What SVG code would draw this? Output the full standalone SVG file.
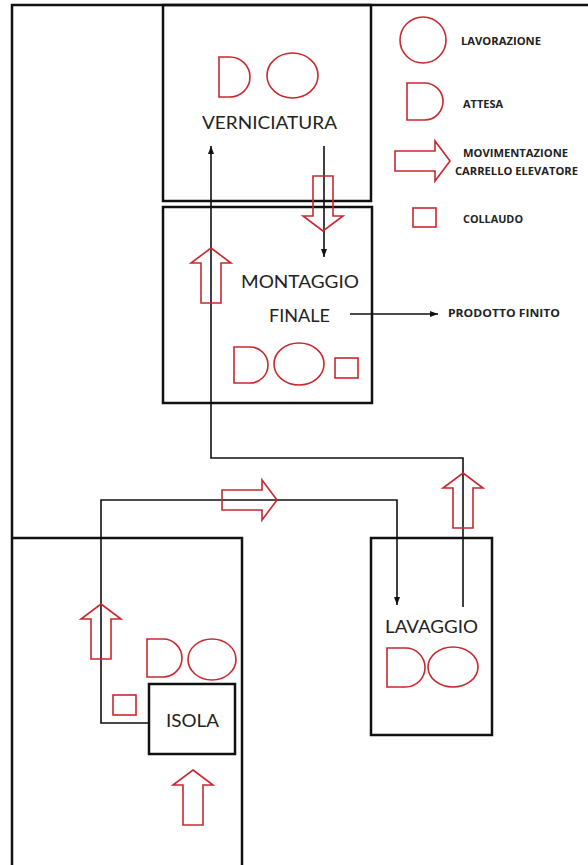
<svg xmlns="http://www.w3.org/2000/svg" xmlns:xlink="http://www.w3.org/1999/xlink" width="588" height="865" viewBox="0 0 588 865">
<style>
.wall{fill:none;stroke:#111;stroke-width:2.5}
.conn{fill:none;stroke:#111;stroke-width:1.6}
.sym{fill:none;stroke:#c8282e;stroke-width:1.6}
.lbl{font-family:Lato,"Open Sans","Liberation Sans",sans-serif;font-size:17px;fill:#222;text-anchor:start}
.leg{font-family:"Open Sans","Liberation Sans",sans-serif;font-weight:bold;font-size:10.5px;fill:#222}
</style>
<defs>
<path id="uparrow" d="M0 0 L20 15 L10 15 L10 55 L-10 55 L-10 15 L-20 15 Z"/>
<marker id="ah" markerUnits="userSpaceOnUse" markerWidth="8" markerHeight="8" viewBox="0 0 8 8" refX="8" refY="4" orient="auto">
<path d="M0 1 L8 4 L0 7 Z" fill="#111"/>
</marker>
</defs>
<rect width="588" height="865" fill="#fff"/>

<g id="frame">
<path class="wall" d="M12 865 V5 H588"/>
</g>

<g id="verniciatura">
<rect class="wall" x="163" y="5" width="208" height="196"/>
<path class="sym" d="M219 57 H230 A20 20 0 0 1 230 97 H219 Z"/>
<ellipse class="sym" cx="292.5" cy="75.5" rx="25.5" ry="22.5"/>
<text class="lbl" x="202" y="129" textLength="135" lengthAdjust="spacingAndGlyphs">VERNICIATURA</text>
</g>

<g id="montaggio">
<rect class="wall" x="163" y="207" width="209" height="196"/>
<text class="lbl" x="241" y="288" textLength="118" lengthAdjust="spacingAndGlyphs">MONTAGGIO</text>
<text class="lbl" x="269" y="322" textLength="61" lengthAdjust="spacingAndGlyphs">FINALE</text>
<path class="sym" d="M234 347 H250 A18 18 0 0 1 250 383 H234 Z"/>
<ellipse class="sym" cx="299" cy="364" rx="25" ry="21"/>
<rect class="sym" x="335" y="358" width="23" height="20"/>
</g>

<g id="lavaggio">
<rect class="wall" x="371" y="538" width="121" height="197"/>
<text class="lbl" x="385" y="633" textLength="93" lengthAdjust="spacingAndGlyphs">LAVAGGIO</text>
<path class="sym" d="M387 648 H405.5 A19.5 19.5 0 0 1 405.5 687 H387 Z"/>
<ellipse class="sym" cx="453" cy="667" rx="25" ry="20"/>
</g>

<g id="area-isola">
<path class="wall" d="M12 538 H242 V865"/>
<path class="sym" d="M147 639 H163 A19 19 0 0 1 163 677 H147 Z"/>
<ellipse class="sym" cx="212" cy="659.5" rx="24" ry="20.5"/>
<rect class="sym" x="113" y="695" width="23" height="20"/>
</g>

<g id="isola">
<rect class="wall" x="149" y="684" width="86" height="70"/>
<text class="lbl" x="166" y="727" textLength="53" lengthAdjust="spacingAndGlyphs">ISOLA</text>
</g>

<g id="prodotto-finito">
<text class="leg" x="448" y="317" textLength="112" lengthAdjust="spacingAndGlyphs">PRODOTTO FINITO</text>
</g>

<g id="legend">
<circle class="sym" cx="423" cy="40" r="23"/>
<text class="leg" x="461" y="45" textLength="80" lengthAdjust="spacingAndGlyphs">LAVORAZIONE</text>
<path class="sym" d="M407 83 H424.5 A18.5 18.5 0 0 1 424.5 120 H407 Z"/>
<text class="leg" x="463" y="108" textLength="40" lengthAdjust="spacingAndGlyphs">ATTESA</text>
<use href="#uparrow" class="sym" transform="translate(450,161) rotate(90)"/>
<text class="leg" x="463" y="157" textLength="105" lengthAdjust="spacingAndGlyphs">MOVIMENTAZIONE</text>
<text class="leg" x="455" y="175" textLength="123" lengthAdjust="spacingAndGlyphs">CARRELLO ELEVATORE</text>
<rect class="sym" x="413" y="208" width="23" height="19"/>
<text class="leg" x="463" y="223" textLength="60" lengthAdjust="spacingAndGlyphs">COLLAUDO</text>
</g>

<g id="connectors">
<path class="conn" d="M463 607 V458 H211 V146" marker-end="url(#ah)"/>
<path class="conn" d="M324 146 V257" marker-end="url(#ah)"/>
<path class="conn" d="M350 314 H438" marker-end="url(#ah)"/>
<path class="conn" d="M149 723 H101 V500 H397 V605" marker-end="url(#ah)"/>
</g>

<g id="forklift-arrows">
<use href="#uparrow" class="sym" transform="translate(211,248)"/>
<use href="#uparrow" class="sym" transform="translate(323,231) rotate(180)"/>
<use href="#uparrow" class="sym" transform="translate(463,473)"/>
<use href="#uparrow" class="sym" transform="translate(277,500) rotate(90)"/>
<use href="#uparrow" class="sym" transform="translate(101,604)"/>
<use href="#uparrow" class="sym" transform="translate(193,770)"/>
</g>
</svg>
